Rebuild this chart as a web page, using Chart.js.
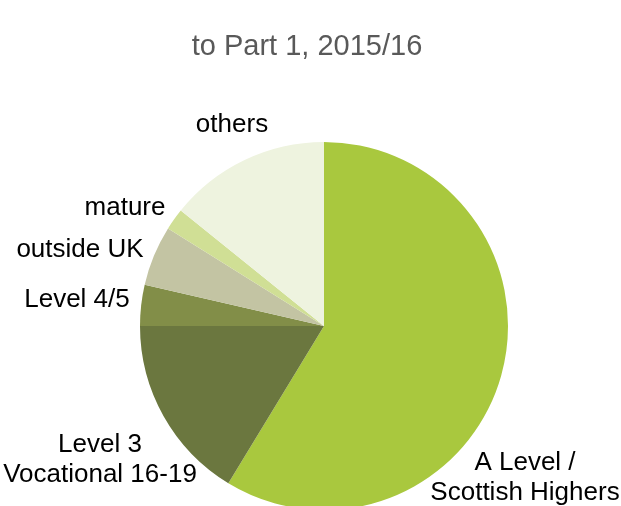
<!DOCTYPE html>
<html>
<head>
<meta charset="utf-8">
<script src="https://cdn.jsdelivr.net/npm/chart.js@4"></script>
<style>
  html, body { margin: 0; padding: 0; background: #fff; overflow: hidden; }
</style>
</head>
<body>
<canvas id="entrychart" width="621" height="520"></canvas>
<script>
const categories = ['A Level / Scottish Highers', 'Level 3 Vocational 16-19', 'Level 4/5', 'outside UK', 'mature', 'others'];
const shares = [58.7, 16.3, 3.6, 5.3, 1.9, 14.2];
const sliceColours = ['#a9c83e', '#6b773f', '#828e48', '#c3c4a3', '#d0df95', '#eef3df'];

// label text lines and where they sit on the page
const labelLines = [
	['A Level /', 'Scottish Highers'],
	['Level 3', 'Vocational 16-19'],
	['Level 4/5'],
	['outside UK'],
	['mature'],
	['others']
];
const labelSpots = [[525, 470], [100, 452], [77, 307], [80, 257], [125, 215], [232, 132]];

const textPlugin = {
	id: 'textPlugin',
	afterDraw(chart) {
		const ctx = chart.ctx;
		ctx.save();
		ctx.textAlign = 'center';
		ctx.textBaseline = 'alphabetic';
		ctx.fillStyle = '#595959';
		ctx.font = '29px "Liberation Sans", Arial, sans-serif';
		ctx.fillText('to Part 1, 2015/16', 307, 55);
		ctx.fillStyle = '#000';
		ctx.font = '26px "Liberation Sans", Arial, sans-serif';
		labelLines.forEach((lines, i) => {
			const [x, y] = labelSpots[i];
			lines.forEach((t, j) => ctx.fillText(t, x, y + j * 30));
		});
		ctx.restore();
	}
};

const entrychart = new Chart(document.getElementById('entrychart'), {
	type: 'pie',
	data: {
		labels: categories,
		datasets: [{
			data: shares,
			backgroundColor: sliceColours,
			borderWidth: 0
		}]
	},
	options: {
		responsive: false,
		animation: false,
		layout: {
			padding: { top: 142, bottom: 10, left: 140, right: 113 }
		},
		plugins: {
			legend: { display: false },
			tooltip: { enabled: false }
		}
	},
	plugins: [textPlugin]
});
</script>
</body>
</html>
